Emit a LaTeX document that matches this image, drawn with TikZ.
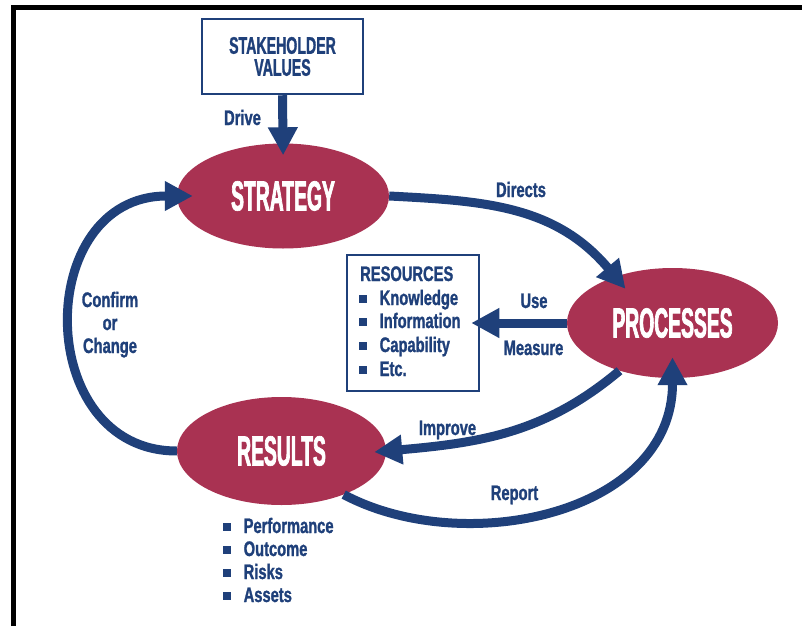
\documentclass[tikz,border=0pt]{standalone}
\usepackage{fontspec}
\setmainfont{Liberation Sans}
\newfontfamily\lblfont[FakeStretch=0.70,FakeBold=1.2]{Liberation Sans}
\newfontfamily\bigfont[FakeStretch=0.46,FakeBold=1.6]{Liberation Sans}
\newfontfamily\stkfont[FakeStretch=0.59,FakeBold=1.2]{Liberation Sans}
\usetikzlibrary{arrows.meta,shapes.geometric}
\definecolor{navy}{RGB}{31,64,122}
\definecolor{crimson}{RGB}{169,50,82}
\newcommand{\sqb}{\textcolor{navy}{\rule[2pt]{8pt}{8pt}}\hspace{12.5pt}}
\begin{document}
\begin{tikzpicture}[x=1pt,y=1pt,
  oval/.style={ellipse, fill=crimson, inner sep=0pt, text=white,
    font=\bigfont\bfseries\fontsize{42}{42}\selectfont},
  lbl/.style={text=navy, font=\lblfont\bfseries\fontsize{21}{23}\selectfont, inner sep=0pt},
  flowarrow/.style={draw=navy, line width=9pt, -{Triangle[length=28pt,width=28pt]}},
  blackframe/.style={draw=black, line width=4.5pt},
  framebox/.style={draw=navy, line width=2.5pt, fill=white, inner sep=0pt}
]
\useasboundingbox (0,0) rectangle (802,-626);
\fill[white] (0,0) rectangle (802,-626);
\draw[blackframe] (13.5,-626) -- (13.5,-7.5) -- (802,-7.5);

% boxes
\node[framebox, minimum width=161pt, minimum height=75pt, align=center, text=navy,
      font=\stkfont\bfseries\fontsize{24}{22}\selectfont] (stake) at (282.5,-56.5) {STAKEHOLDER\\VALUES};
\node[framebox, minimum width=132pt, minimum height=136pt] (resources) at (413,-323) {};

% ellipses
\node[oval, minimum width=212pt, minimum height=105pt] (strategy) at (283,-196) {STRATEGY};
\node[oval, minimum width=211pt, minimum height=110pt] (processes) at (672.5,-323) {PROCESSES};
\node[oval, minimum width=209pt, minimum height=108pt] (results) at (281.5,-451) {RESULTS};

% resources list
\node[lbl, anchor=base west] (rtitle) at (360,-281) {RESOURCES};
\node[lbl, anchor=base west] (r1) at (359,-305) {\sqb Knowledge};
\node[lbl, anchor=base west] (r2) at (359,-328) {\sqb Information};
\node[lbl, anchor=base west] (r3) at (359,-352) {\sqb Capability};
\node[lbl, anchor=base west] (r4) at (359,-376) {\sqb Etc.};

% results list
\node[lbl, anchor=base west] (o1) at (223,-533) {\sqb Performance};
\node[lbl, anchor=base west] (o2) at (223,-556) {\sqb Outcome};
\node[lbl, anchor=base west] (o3) at (223,-579) {\sqb Risks};
\node[lbl, anchor=base west] (o4) at (223,-602) {\sqb Assets};

% arrows
\draw[flowarrow, shorten >=-12pt] (stake.south) -- (strategy.north);
\draw[flowarrow, shorten >=-16pt] (strategy.east) to[out=-3,in=130] (processes.141);
\draw[flowarrow, shorten >=-9pt] (processes.west) -- (resources.east);
\draw[flowarrow, shorten >=-12pt] (processes.222) to[out=-140,in=5] (results.east);
\draw[flowarrow, shorten >=-21pt] (results.-35) to[out=-28,in=-90] (processes.south);
\draw[flowarrow, shorten >=-16pt] (results.west) to[out=180,in=180,looseness=1.45] (strategy.west);

% labels
\node[lbl, anchor=base] (ldrive) at (242.5,-125) {Drive};
\node[lbl, anchor=base] (ldirects) at (521,-197) {Directs};
\node[lbl, anchor=base] (luse) at (534,-308) {Use};
\node[lbl, anchor=base] (lmeasure) at (533.5,-355) {Measure};
\node[lbl, anchor=base] (limprove) at (447.5,-435) {Improve};
\node[lbl, anchor=base] (lreport) at (514.5,-500) {Report};
\node[lbl, anchor=base] (lconfirm) at (110,-307) {Confirm};
\node[lbl, anchor=base] (lor) at (110,-330) {or};
\node[lbl, anchor=base] (lchange) at (110,-353) {Change};
\end{tikzpicture}
\end{document}
